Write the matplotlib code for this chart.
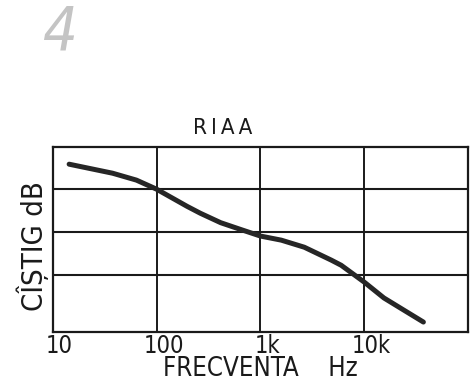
import matplotlib
matplotlib.use("Agg")
import matplotlib.pyplot as plt
from matplotlib.transforms import ScaledTranslation

# RIAA playback curve, gain read against the grid (10 dB per division)
freq_hz = [14.4, 22.8, 37.8, 64, 100, 197, 264, 415, 651, 1000,
           1592, 2650, 4820, 6010, 10000, 15500, 24000, 37200]
gain_db = [15.8, 14.8, 13.7, 12.1, 10.0, 6.0, 4.4, 2.2, 0.6, -0.9,
           -1.86, -3.5, -6.5, -7.7, -11.6, -15.3, -18.1, -20.9]

tick_freqs = [10, 100, 1000, 10000]
tick_labels = ["10", "100", "1k", "10k"]
grid_db = [-10, 0, 10]

INK = "#1a1a1a"
FONT = dict(family="DejaVu Sans", stretch="condensed", color=INK)

fig = plt.figure(figsize=(4.7, 3.81), dpi=100)
ax = fig.add_axes([0.1121, 0.1299, 0.8836, 0.4843])

ax.set_xscale("log")
ax.set_xlim(10, 1e5)
ax.set_ylim(-23.1, 19.8)

for f in tick_freqs[1:]:
    ax.axvline(f, color=INK, lw=1.4)
for g in grid_db:
    ax.axhline(g, color=INK, lw=1.5)

ax.plot(freq_hz, gain_db, color="#262626", lw=3.6,
        solid_capstyle="round", solid_joinstyle="round")

for side in ax.spines.values():
    side.set_linewidth(1.6)
    side.set_color(INK)

ax.set_yticks([])
ax.set_xticks(tick_freqs)
ax.set_xticklabels(tick_labels, fontsize=17, **FONT)
ax.xaxis.set_minor_locator(plt.NullLocator())
ax.tick_params(axis="x", length=0, pad=2)
shift = ScaledTranslation(7 / 100, 0, fig.dpi_scale_trans)
for lbl in ax.get_xticklabels():
    lbl.set_transform(lbl.get_transform() + shift)

fig.text(222.5 / 470, 1 - 127.5 / 381, "R\u2009I\u2009A\u2009A",
         fontsize=16, ha="center", va="center", **FONT)
fig.text(33 / 470, 1 - 246.5 / 381, "CÎȘTIG dB", rotation=90,
         fontsize=21, ha="center", va="center", **FONT)
fig.text(260.5 / 470, 1 - 369 / 381, "FRECVENTA    Hz",
         fontsize=18.5, ha="center", va="center", **FONT)
fig.text(60 / 470, 1 - 50 / 381, "4", fontsize=44, style="oblique",
         ha="center", va="baseline", family="DejaVu Sans", stretch="condensed",
         color="#c4c4c4")

fig.savefig("out.png", dpi=100)
